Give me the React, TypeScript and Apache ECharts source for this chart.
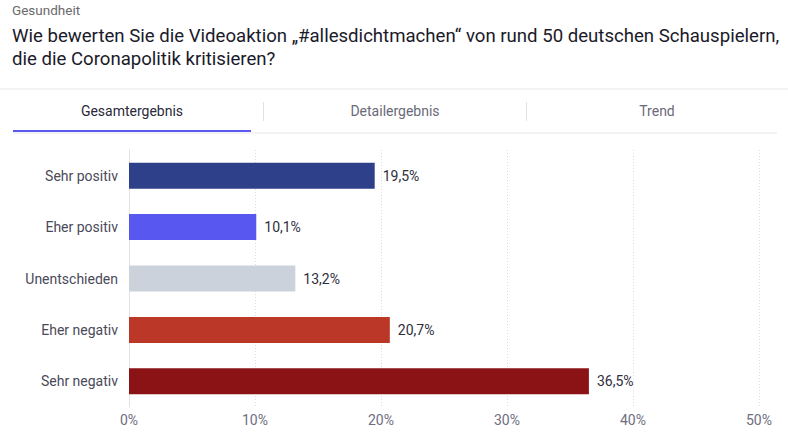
import React, { useEffect, useRef } from "react";
import * as echarts from "echarts";

const categories = ["Sehr positiv", "Eher positiv", "Unentschieden", "Eher negativ", "Sehr negativ"];
const values = [19.5, 10.1, 13.2, 20.7, 36.5];
const barColors = ["#2f408a", "#5858f0", "#ccd2dc", "#bb3728", "#8b1316"];
const tabs = ["Gesamtergebnis", "Detailergebnis", "Trend"];
const topic = "Gesundheit";
const titleLines = [
  "Wie bewerten Sie die Videoaktion „#allesdichtmachen“ von rund 50 deutschen Schauspielern,",
  "die die Coronapolitik kritisieren?",
];

const FONT = "Roboto, 'Noto Sans', sans-serif";

export default function App() {
  const ref = useRef<HTMLDivElement>(null);
  useEffect(() => {
    if (!ref.current) return;
    const chart = echarts.init(ref.current, null, { renderer: "svg" });
    const tabCenters = [132, 395, 657];
    chart.setOption({
      animation: false,
      textStyle: { fontFamily: FONT },
      grid: { left: 129, right: 29, top: 150, bottom: 36, containLabel: false },
      xAxis: {
        type: "value",
        min: 0,
        max: 50,
        interval: 10,
        axisLabel: {
          formatter: (v: number) => `${v}%`,
          color: "#6e6e80",
          fontSize: 14,
          margin: 6,
          fontFamily: FONT,
        },
        axisLine: { show: false },
        axisTick: { show: false },
        splitLine: { show: true, lineStyle: { color: "#dcdcdc", type: [1, 2], width: 1 } },
      },
      yAxis: {
        type: "category",
        data: categories,
        inverse: true,
        axisLine: { show: true, lineStyle: { color: "#e2e2e2", width: 1 } },
        axisTick: { show: false },
        axisLabel: { color: "#4a4a5a", fontSize: 14, margin: 11, fontFamily: FONT },
      },
      series: [
        {
          type: "bar",
          data: values.map((v, i) => ({ value: v, itemStyle: { color: barColors[i] } })),
          barWidth: 26,
          label: {
            show: true,
            position: "right",
            distance: 8,
            color: "#2e2e3c",
            fontSize: 14,
            fontFamily: FONT,
            formatter: (p: any) => `${String(p.value).replace(".", ",")}%`,
          },
        },
      ],
      graphic: [
        { type: "text", left: 12, top: 3, style: { text: topic, fill: "#6a6a6a", font: `13.5px ${FONT}` } },
        { type: "text", left: 12, top: 26, style: { text: titleLines[0], fill: "#1a1a2a", font: `18.6px ${FONT}` } },
        { type: "text", left: 12, top: 49, style: { text: titleLines[1], fill: "#1a1a2a", font: `18.6px ${FONT}` } },
        { type: "line", shape: { x1: 0, y1: 89, x2: 788, y2: 89 }, style: { stroke: "#e6e6e6", lineWidth: 1 } },
        ...tabs.map((t, i) => ({
          type: "text",
          x: tabCenters[i],
          y: 111,
          style: {
            text: t,
            fill: i === 0 ? "#2a2a3a" : "#6a6a78",
            font: `14px ${FONT}`,
            align: "center",
            verticalAlign: "middle",
          },
        })),
        { type: "line", shape: { x1: 263.5, y1: 102, x2: 263.5, y2: 121 }, style: { stroke: "#e2e2e2", lineWidth: 1 } },
        { type: "line", shape: { x1: 526.5, y1: 102, x2: 526.5, y2: 121 }, style: { stroke: "#e2e2e2", lineWidth: 1 } },
        { type: "line", shape: { x1: 13, y1: 133, x2: 777, y2: 133 }, style: { stroke: "#e6e6e6", lineWidth: 1 } },
        { type: "rect", shape: { x: 13, y: 130, width: 238, height: 2 }, style: { fill: "#5a5af0" } },
      ],
    });
    return () => chart.dispose();
  }, []);
  return <div ref={ref} style={{ width: 788, height: 443, position: "absolute", left: 0, top: 0 }} />;
}
